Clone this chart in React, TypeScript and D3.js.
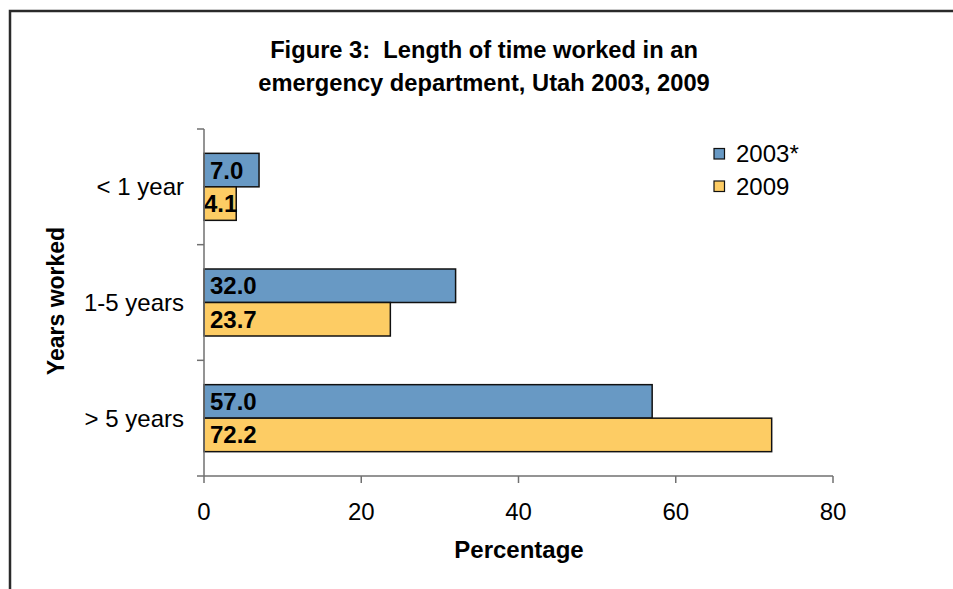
import React from "react";
import * as d3 from "d3";

const categories = ["< 1 year", "1-5 years", "> 5 years"];
const seriesNames = ["2003*", "2009"];
const values2003 = [7.0, 32.0, 57.0];
const values2009 = [4.1, 23.7, 72.2];
const xTicks = [0, 20, 40, 60, 80];
const titleLines = ["Figure 3:  Length of time worked in an", "emergency department, Utah 2003, 2009"];
const colors = ["#6899C4", "#FDCC64"];

const W = 953;
const H = 589;
const FS = 24;
const FONT = "'Liberation Sans', Arial, Helvetica, sans-serif";

function SText({ x, y, anchor = "start", size = FS, bold = false, children }: any) {
  return (
    <text
      x={x}
      y={y}
      textAnchor={anchor}
      fontSize={size}
      fontWeight={bold ? "bold" : "normal"}
      fontFamily={FONT}
      fill="#000"
      style={{ whiteSpace: "pre" }}
    >
      {children}
    </text>
  );
}

export default function App() {
  const x = d3.scaleLinear().domain([0, 80]).range([204, 833]);
  const y0 = d3.scaleBand<string>().domain(categories).range([129, 476]).padding(0);
  const groupH = 67;
  const off = (y0.bandwidth() - groupH) / 2;
  const y1 = d3.scaleBand<string>().domain(seriesNames).range([off, off + groupH]).padding(0);
  const series = [values2003, values2009];
  const charW = (s: string) => {
    let w = 0;
    for (const c of s) w += c === "." ? 0.278 : 0.556;
    return w * FS;
  };

  return (
    <svg width={W} height={H} style={{ position: "absolute", left: 0, top: 0, background: "#fff" }}>
      <rect x={0} y={0} width={W} height={H} fill="#fff" />
      <rect x={10} y={11} width={W + 20} height={H + 20} fill="none" stroke="#2a2a2a" strokeWidth={2.5} />
      {titleLines.map((t, i) => (
        <SText key={t} x={484} y={58 + i * 33} anchor="middle" size={23.7} bold>
          {t}
        </SText>
      ))}
      {/* bars */}
      {categories.map((c, ci) =>
        seriesNames.map((s, si) => {
          const v = series[si][ci];
          const by = (y0(c) as number) + (y1(s) as number);
          const bh = y1.bandwidth();
          const x0 = x(0);
          const x1 = x(v);
          const label = v.toFixed(1);
          const lw = charW(label);
          const lx = Math.max(x0, Math.min(x0 + 6, x1 - lw - 1));
          return (
            <g key={c + s}>
              <rect x={x0} y={by} width={x1 - x0} height={bh} fill={colors[si]} stroke="#111" strokeWidth={1.5} />
              <SText x={lx} y={by + bh / 2 + 8.5} bold>
                {label}
              </SText>
            </g>
          );
        })
      )}
      {/* y axis */}
      <line x1={x(0)} x2={x(0)} y1={129} y2={476} stroke="#707070" strokeWidth={1.5} />
      {[...categories.map((c) => y0(c) as number), 476].map((t, i) => (
        <line key={i} x1={x(0) - 7} x2={x(0)} y1={t} y2={t} stroke="#707070" strokeWidth={1.5} />
      ))}
      {categories.map((c) => (
        <SText key={c} x={184} y={(y0(c) as number) + y0.bandwidth() / 2 + 8.5} anchor="end">
          {c}
        </SText>
      ))}
      {/* x axis */}
      <line x1={x(0)} x2={x(80)} y1={476} y2={476} stroke="#707070" strokeWidth={1.5} />
      {xTicks.map((t) => (
        <g key={t}>
          <line x1={x(t)} x2={x(t)} y1={476} y2={483} stroke="#707070" strokeWidth={1.5} />
          <SText x={x(t)} y={520} anchor="middle">
            {t}
          </SText>
        </g>
      ))}
      <SText x={519} y={558} anchor="middle" bold>
        Percentage
      </SText>
      <text
        transform={`translate(64,301) rotate(-90)`}
        textAnchor="middle"
        fontSize={23}
        fontWeight="bold"
        fontFamily={FONT}
      >
        Years worked
      </text>
      {/* legend */}
      {seriesNames.map((s, i) => (
        <g key={s}>
          <rect x={714} y={148.5 + i * 32.5} width={10.5} height={10.5} fill={colors[i]} stroke="#111" strokeWidth={1.2} />
          <SText x={736} y={162 + i * 32.5}>
            {s}
          </SText>
        </g>
      ))}
    </svg>
  );
}
